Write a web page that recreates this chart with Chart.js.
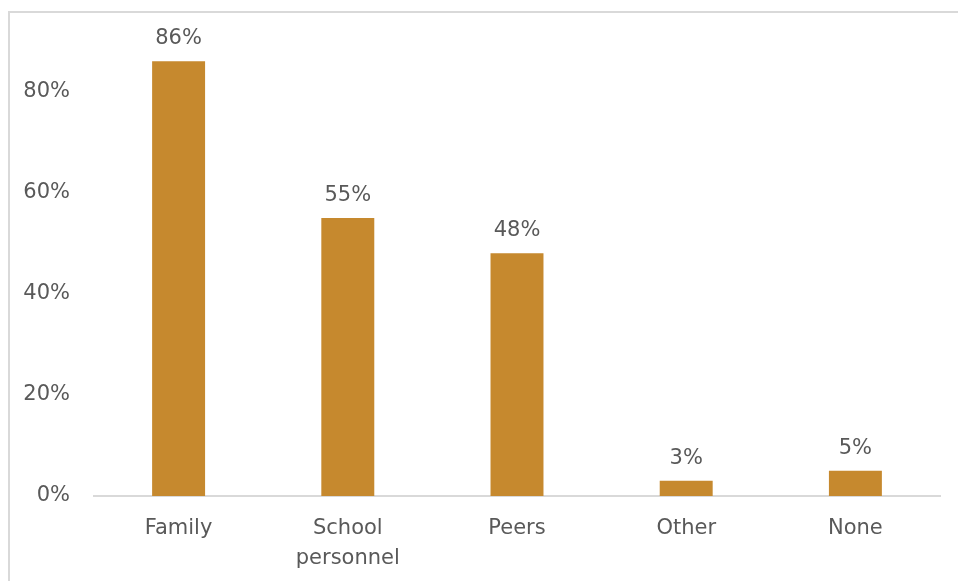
<!DOCTYPE html>
<html>
<head>
<meta charset="utf-8">
<script src="https://cdn.jsdelivr.net/npm/chart.js@4/dist/chart.umd.min.js"></script>
<style>
  html, body { margin: 0; padding: 0; background: #fff; overflow: hidden; }
  #frame {
    position: absolute; left: 8px; top: 11px; width: 960px; height: 580px;
    border-left: 2px solid #d9d9d9; border-top: 2px solid #d9d9d9;
  }
  #wrap { position: absolute; left: 0; top: 0; width: 958px; height: 581px; }
</style>
</head>
<body>
<div id="frame"></div>
<div id="wrap"><canvas id="myChart"></canvas></div>
<script>
const categories = [["Family"], ["School", "personnel"], ["Peers"], ["Other"], ["None"]];
const shares = [86, 55, 48, 3, 5];
const yTicks = [0, 20, 40, 60, 80];

const fontFamily = "'DejaVu Sans', sans-serif";
const textColor = "#595959";

// value labels above each bar
const barLabels = {
    id: "barLabels",
    afterDatasetsDraw(chart) {
        const ctx = chart.ctx;
        ctx.save();
        ctx.font = "21px " + fontFamily;
        ctx.fillStyle = textColor;
        ctx.textAlign = "center";
        ctx.textBaseline = "bottom";
        chart.getDatasetMeta(0).data.forEach((bar, i) => {
            ctx.fillText(shares[i] + "%", bar.x, bar.y - 12);
        });
        ctx.restore();
    }
};

new Chart(document.getElementById("myChart"), {
    type: "bar",
    data: {
        labels: categories,
        datasets: [{
            data: shares,
            backgroundColor: "#c6892e",
            categoryPercentage: 1,
            barPercentage: 0.313
        }]
    },
    options: {
        responsive: true,
        maintainAspectRatio: false,
        animation: false,
        layout: { padding: { top: 41, right: 18, left: 0, bottom: 0 } },
        plugins: { legend: { display: false }, tooltip: { enabled: false } },
        scales: {
            x: {
                grid: { display: false, drawTicks: false },
                border: { color: "#d9d9d9", width: 2 },
                ticks: {
                    color: textColor,
                    font: { family: fontFamily, size: 21, lineHeight: 1.43 },
                    padding: 18,
                    maxRotation: 0
                },
                afterFit: s => { s.height = 85; }
            },
            y: {
                min: 0,
                max: 90,
                grid: { display: false, drawTicks: false },
                border: { display: false },
                ticks: {
                    stepSize: 20,
                    color: textColor,
                    font: { family: fontFamily, size: 21 },
                    padding: 24,
                    callback: v => v + "%"
                },
                afterBuildTicks: s => { s.ticks = yTicks.map(v => ({ value: v })); },
                afterFit: s => { s.width = 94; }
            }
        }
    },
    plugins: [barLabels]
});
</script>
</body>
</html>
